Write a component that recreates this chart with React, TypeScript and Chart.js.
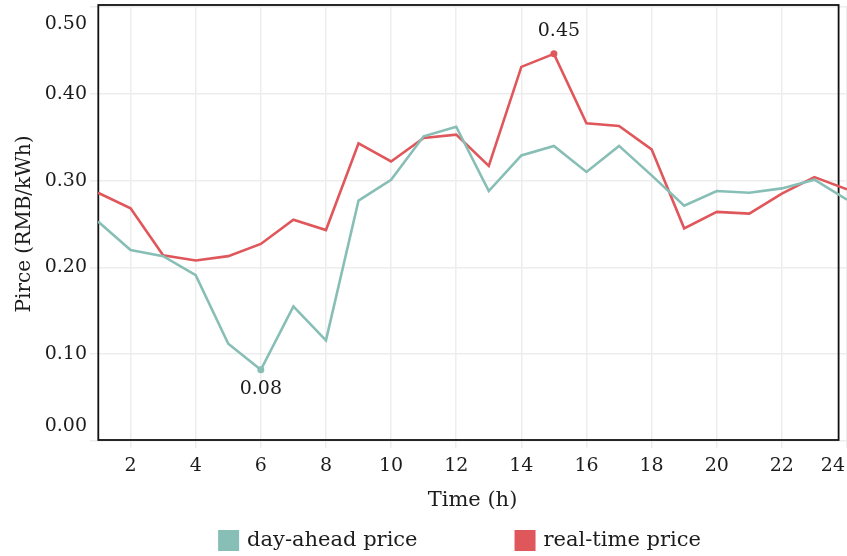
import React, { useEffect, useRef } from 'react';
import { Chart, registerables } from 'chart.js';

Chart.register(...registerables);

// ---- data ----
const hours = [1, 2, 3, 4, 5, 6, 7, 8, 9, 10, 11, 12, 13, 14, 15, 16, 17, 18, 19, 20, 21, 22, 23, 24];
const dayAheadPrice = [0.253, 0.220, 0.213, 0.191, 0.112, 0.082, 0.155, 0.116, 0.277, 0.301, 0.351, 0.362, 0.288, 0.329, 0.340, 0.310, 0.340, 0.306, 0.271, 0.288, 0.286, 0.291, 0.301, 0.278];
const realTimePrice = [0.286, 0.268, 0.214, 0.208, 0.213, 0.227, 0.255, 0.243, 0.343, 0.322, 0.349, 0.353, 0.317, 0.431, 0.446, 0.366, 0.363, 0.336, 0.245, 0.264, 0.262, 0.285, 0.304, 0.290];
const seriesNames = ['day-ahead price', 'real-time price'];
const seriesColors = ['#87BEB5', '#E0575B'];
const xTickValues = [2, 4, 6, 8, 10, 12, 14, 16, 18, 20, 22, 24];
const yTickValues = [0, 0.1, 0.2, 0.3, 0.4, 0.5];
const yTickLabels = ['0.00', '0.10', '0.20', '0.30', '0.40', '0.50'];
const xTitle = 'Time (h)';
const yTitle = 'Pirce (RMB/kWh)';
const annotationSeries = [1, 0];
const annotationIndex = [14, 5];
const annotationText = ['0.45', '0.08'];
const annotationPlace = ['above', 'below'];

const FONT = '"DejaVu Serif", serif';
const TEXT = '#1c1c1c';
const GRID = '#EDEDED';

const overlayPlugin = {
  id: 'overlay',
  beforeDatasetsDraw(chart: any) {
    const { ctx, chartArea } = chart;
    ctx.save();
    ctx.strokeStyle = '#111';
    ctx.lineWidth = 1.8;
    ctx.strokeRect(chartArea.left + 0.3, chartArea.top - 2, chartArea.right - 8.7 - chartArea.left, chartArea.bottom - 1 - (chartArea.top - 2));
    ctx.restore();
  },
  afterDraw(chart: any) {
    const { ctx, chartArea, scales } = chart;
    const xs = scales.x;
    const ys = scales.y;
    ctx.save();
    ctx.fillStyle = TEXT;
    ctx.font = `19px ${FONT}`;
    // y tick labels
    ctx.textAlign = 'right';
    ctx.textBaseline = 'middle';
    yTickValues.forEach((v, i) => {
      let y = ys.getPixelForValue(v);
      y = Math.min(Math.max(y, chartArea.top + 17), chartArea.bottom - 15);
      ctx.fillText(yTickLabels[i], chartArea.left - 11, y);
    });
    // x tick labels
    ctx.textAlign = 'center';
    xTickValues.forEach((v) => {
      const label = String(v);
      const w = ctx.measureText(label).width;
      let x = xs.getPixelForValue(v);
      x = Math.min(x, chart.width - w / 2 - 2);
      ctx.fillText(label, x, chartArea.bottom + 25);
    });
    // annotations
    annotationText.forEach((t, i) => {
      const meta = chart.getDatasetMeta(annotationSeries[i]);
      const pt = meta.data[annotationIndex[i]];
      const above = annotationPlace[i] === 'above';
      ctx.fillText(t, pt.x + (above ? 5 : 0), above ? pt.y - 23 : pt.y + 19);
    });
    // legend
    ctx.font = `21px ${FONT}`;
    ctx.textAlign = 'left';
    const box = 21;
    const gapText = 8;
    const gapItem = 97;
    const widths = seriesNames.map((n) => ctx.measureText(n).width);
    const total = widths.reduce((a, w) => a + box + gapText + w, 0) + gapItem * (seriesNames.length - 1);
    const center = (chartArea.left + chartArea.right) / 2 - 13;
    let x = center - total / 2;
    const cy = chart.height - 15.5;
    seriesNames.forEach((n, i) => {
      ctx.fillStyle = seriesColors[i];
      ctx.fillRect(x, cy - box / 2, box, box);
      ctx.fillStyle = TEXT;
      ctx.fillText(n, x + box + gapText, cy);
      x += box + gapText + widths[i] + gapItem;
    });
    ctx.restore();
  },
};

export default function App() {
  const canvasRef = useRef<HTMLCanvasElement | null>(null);

  useEffect(() => {
    if (!canvasRef.current) return;
    const mk = (vals: number[]) => vals.map((v, i) => ({ x: hours[i], y: v }));
    const radii = (s: number) => hours.map((_, i) => {
      const k = annotationSeries.findIndex((ser, j) => ser === s && annotationIndex[j] === i);
      return k >= 0 ? 3.5 : 0;
    });
    const chart = new Chart(canvasRef.current, {
      type: 'line',
      data: {
        datasets: [dayAheadPrice, realTimePrice].map((vals, s) => ({
          label: seriesNames[s],
          data: mk(vals),
          borderColor: seriesColors[s],
          backgroundColor: seriesColors[s],
          pointBackgroundColor: seriesColors[s],
          pointBorderWidth: 0,
          pointRadius: radii(s),
          borderWidth: 2.6,
          tension: 0,
          fill: false,
        })),
      },
      options: {
        animation: false,
        responsive: true,
        maintainAspectRatio: false,
        events: [],
        layout: { padding: { top: 7, left: 0, right: 0, bottom: 0 } },
        plugins: { legend: { display: false }, tooltip: { enabled: false } },
        scales: {
          x: {
            type: 'linear',
            min: 1,
            max: 24,
            afterBuildTicks: (s: any) => { s.ticks = xTickValues.map((v) => ({ value: v })); },
            afterFit: (s: any) => { s.height = 115; s.paddingLeft = 0; s.paddingRight = 0; },
            ticks: { display: false },
            grid: { color: GRID, lineWidth: 1.5, tickLength: 7, drawTicks: true },
            border: { display: false },
            title: { display: true, text: xTitle, color: TEXT, font: { family: FONT, size: 21 }, padding: { top: 0, bottom: 43 } },
          },
          y: {
            min: 0,
            max: 0.5,
            afterBuildTicks: (s: any) => { s.ticks = yTickValues.map((v) => ({ value: v })); },
            afterFit: (s: any) => { s.width = 98; s.paddingTop = 0; s.paddingBottom = 0; },
            ticks: { display: false },
            grid: { color: GRID, lineWidth: 1.5, tickLength: 8, drawTicks: true },
            border: { display: false },
            title: { display: true, text: yTitle, color: TEXT, font: { family: FONT, size: 20 }, padding: { top: 13, bottom: 0 } },
          },
        },
      },
      plugins: [overlayPlugin],
    });
    return () => chart.destroy();
  }, []);

  return (
    <div style={{ position: 'fixed', left: 0, top: 0, width: 847, height: 556, background: '#fff' }}>
      <canvas ref={canvasRef} />
    </div>
  );
}
